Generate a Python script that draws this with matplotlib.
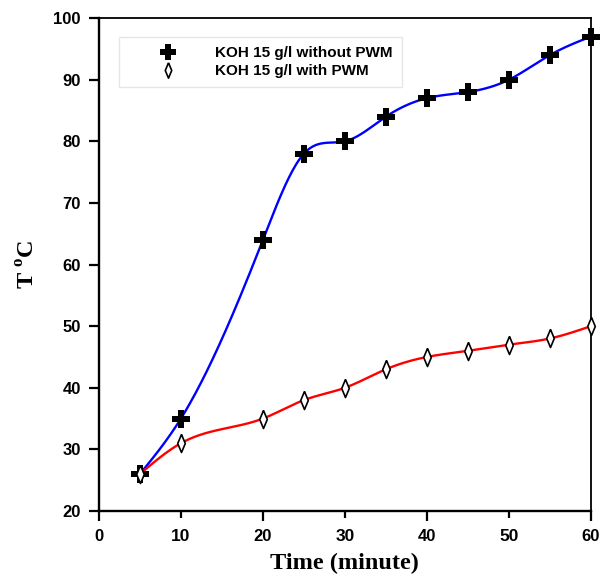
import numpy as np
import matplotlib
matplotlib.use('Agg')
from matplotlib import pyplot as plt

# Data
time       = [5, 10, 20, 25, 30, 35, 40, 45, 50, 55, 60]
temp_nopwm = [26, 35, 64, 78, 80, 84, 87, 88, 90, 94, 97]
temp_pwm   = [26, 31, 35, 38, 40, 43, 45, 46, 47, 48, 50]
legends    = ['KOH 15 g/l without PWM', 'KOH 15 g/l with PWM']


def smooth(x, y, n=400):
    # natural cubic spline through the points, only for drawing the line
    x = np.asarray(x, float); y = np.asarray(y, float)
    k = len(x); h = np.diff(x)
    A = np.zeros((k, k)); r = np.zeros(k)
    A[0, 0] = A[-1, -1] = 1
    for i in range(1, k - 1):
        A[i, i - 1] = h[i - 1]; A[i, i] = 2 * (h[i - 1] + h[i]); A[i, i + 1] = h[i]
        r[i] = 6 * ((y[i + 1] - y[i]) / h[i] - (y[i] - y[i - 1]) / h[i - 1])
    M = np.linalg.solve(A, r)
    xs = np.linspace(x[0], x[-1], n)
    j = np.clip(np.searchsorted(x, xs) - 1, 0, k - 2)
    t0 = x[j + 1] - xs; t1 = xs - x[j]; hj = h[j]
    ys = (M[j] * t0**3 + M[j + 1] * t1**3) / (6 * hj) \
        + (y[j] / hj - M[j] * hj / 6) * t0 + (y[j + 1] / hj - M[j + 1] * hj / 6) * t1
    return xs, ys


# narrow diamond marker
diamond = [(0, 1), (0.42, 0), (0, -1), (-0.42, 0), (0, 1)]

plt.rcParams['font.family'] = 'Liberation Sans'
fig = plt.figure(figsize=(6.03, 5.83), dpi=100)
ax = fig.add_axes([0.164, 0.1235, 0.816, 0.8455])

xs, ys = smooth(time, temp_nopwm)
ax.plot(xs, ys, color='#0000ff', linewidth=1.7, zorder=2)
xs, ys = smooth(time, temp_pwm)
ax.plot(xs, ys, color='#ff0000', linewidth=1.7, zorder=2)

ax.plot(time, temp_nopwm, linestyle='none', marker='P', markersize=13,
        color='black', markeredgewidth=0, label=legends[0], zorder=3, clip_on=False)
ax.plot(time, temp_pwm, linestyle='none', marker=diamond, markersize=13,
        markerfacecolor='white', markeredgecolor='black', markeredgewidth=1.2,
        label=legends[1], zorder=3, clip_on=False)

ax.set_xlim(0, 60)
ax.set_ylim(20, 100)
ax.set_xticks([0, 20, 40, 60])
ax.set_xticks([10, 30, 50], minor=True)
ax.set_xticklabels(['0', '20', '40', '60'])
ax.set_xticklabels(['10', '30', '50'], minor=True)
ax.set_yticks(range(20, 101, 10))
ax.tick_params(axis='both', which='major', direction='out', length=7, width=1.6,
               labelsize=12, pad=6)
ax.tick_params(axis='x', which='minor', direction='out', length=5, width=1.6,
               labelsize=12.5, pad=8)
ax.tick_params(axis='y', which='minor', left=False)
for lab in ax.get_xticklabels() + ax.get_yticklabels() + ax.get_xticklabels(minor=True):
    lab.set_fontweight('bold')
ax.spines['left'].set_linewidth(1.7)
ax.spines['bottom'].set_linewidth(1.7)
ax.spines['top'].set_linewidth(1.3)
ax.spines['right'].set_linewidth(1.3)

ax.set_xlabel('Time (minute)', family='Liberation Serif', fontweight='bold',
              fontsize=17.5, labelpad=6)
ax.set_ylabel('T $^\\mathregular{o}$C', family='Liberation Serif', fontweight='bold',
              fontsize=17.5, labelpad=10)

leg = ax.legend(loc='upper left', bbox_to_anchor=(0.0407, 0.961), borderaxespad=0,
                prop={'weight': 'bold', 'size': 11}, frameon=True, fancybox=False,
                edgecolor='#e0e0e0', handlelength=5.2, handletextpad=0.5,
                borderpad=0.6, labelspacing=0.25, markerscale=0.85)
leg.get_frame().set_linewidth(1)

fig.savefig('out.png', dpi=100)
